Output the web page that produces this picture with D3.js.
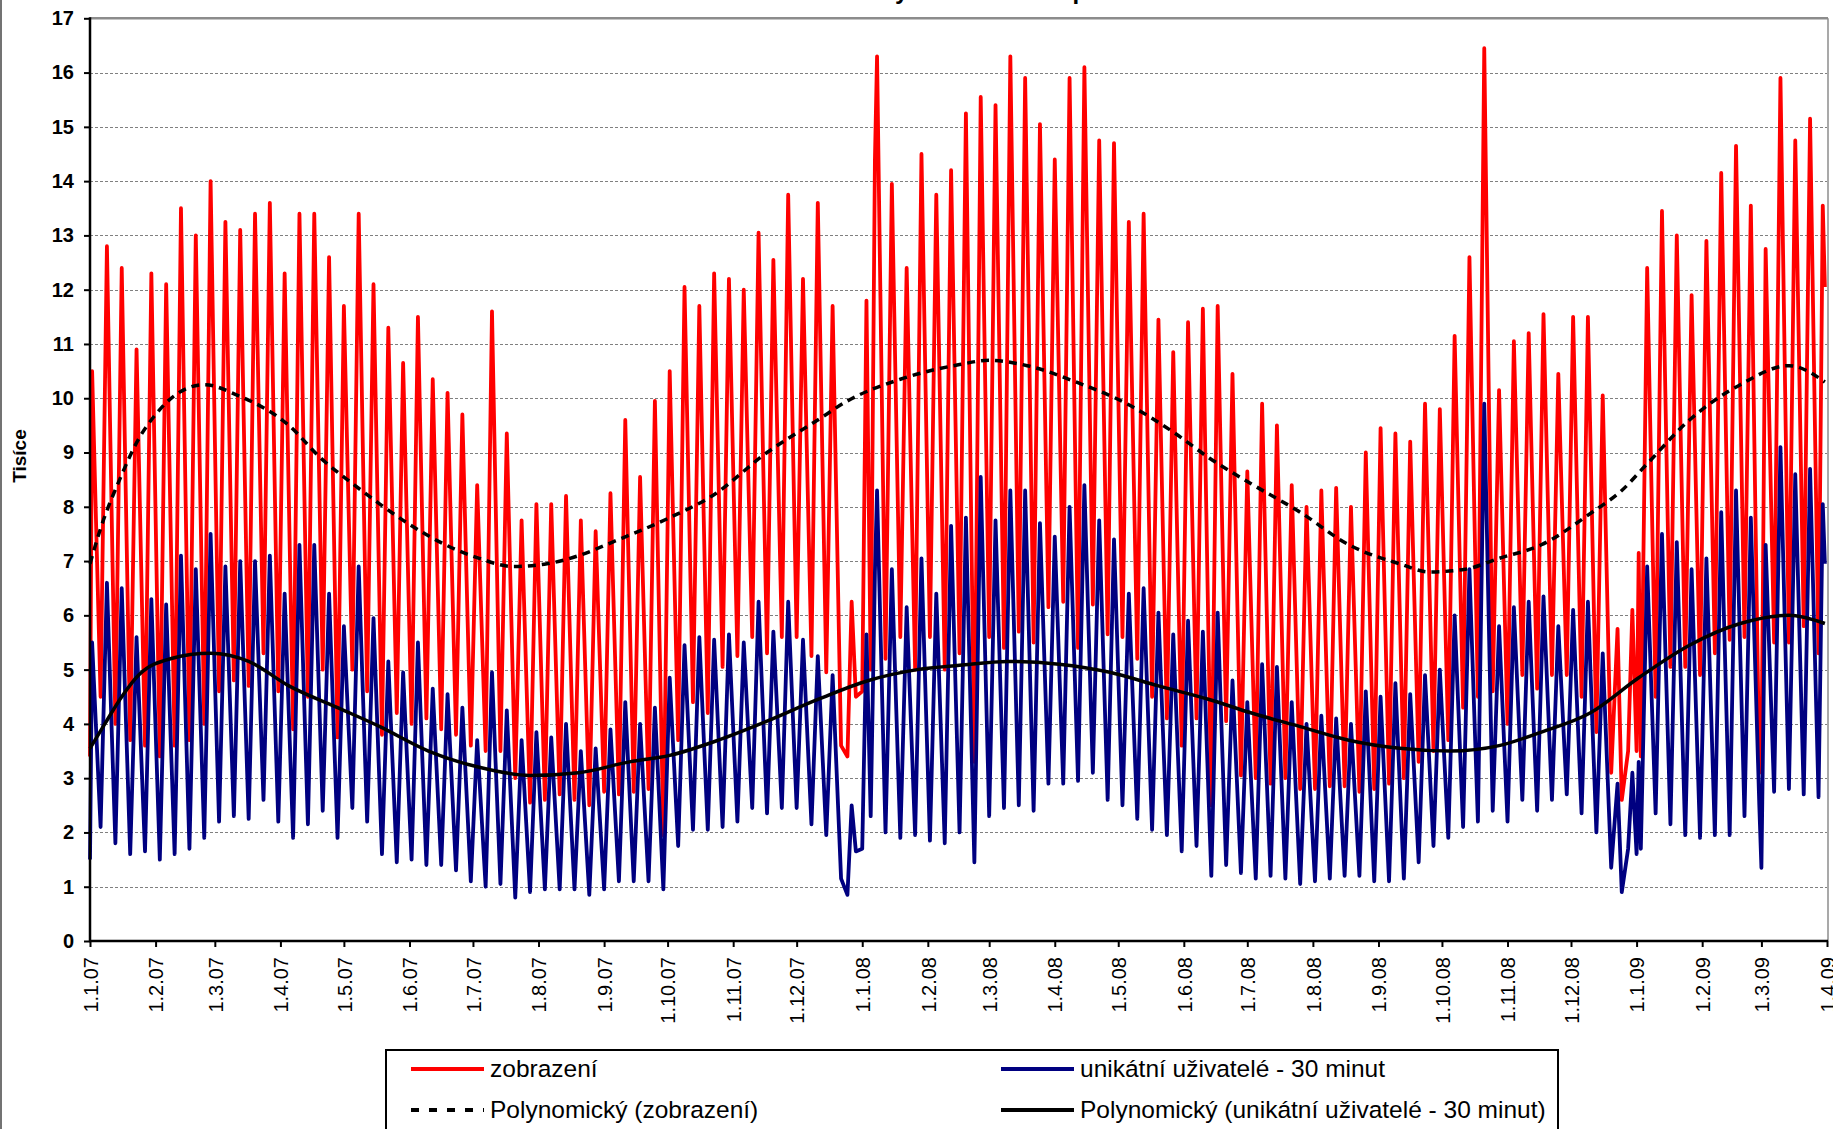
<!DOCTYPE html>
<html><head><meta charset="utf-8">
<script src="https://cdn.jsdelivr.net/npm/d3@7"></script>
<style>body{margin:0;background:#fff}svg{display:block}</style>
</head><body><svg id="c" width="1833" height="1129"></svg>
<script>
// ---------- DATA (thousands) ----------
// Weekly readings: week k starts on Monday 1.1.07 + 7k days.
// Peak placed on Tuesday, weekend low placed on Saturday.
const redPeak = [10.5,12.8,12.4,10.9,12.3,12.1,13.5,13.0,14.0,13.25,
 13.1,13.4,13.6,12.3,13.4,13.4,12.6,11.7,13.4,12.1,
 11.3,10.65,11.5,10.35,10.1,9.7,8.4,11.6,9.35,7.75,
 8.05,8.05,8.2,7.75,7.55,8.25,9.6,8.55,9.95,10.5,
 12.05,11.7,12.3,12.2,12.0,13.05,12.55,13.75,12.2,13.6,
 11.7,null,null,16.3,13.95,12.4,14.5,13.75,14.2,15.25,
 15.55,15.4,16.3,15.9,15.05,14.4,15.9,16.1,14.75,14.7,
 13.25,13.4,11.45,10.85,11.4,11.65,11.7,10.45,8.65,9.9,
 9.5,8.4,8.0,8.3,8.35,8.0,9.0,9.45,9.35,9.2,
 9.9,9.8,11.15,12.6,16.45,10.15,11.05,11.2,11.55,10.45,
 11.5,11.5,10.05,null,null,12.4,13.45,13.0,11.9,12.9,
 14.15,14.65,13.55,12.75,15.9,14.75,15.15,null];
const redLow = [4.5,4.0,3.7,3.6,3.4,3.6,3.7,4.0,4.6,4.8,
 4.7,5.3,4.6,3.9,4.5,5.0,3.75,5.0,4.6,3.8,
 4.2,4.0,4.1,3.9,3.8,3.6,3.5,3.5,3.0,2.55,
 2.6,2.7,2.6,2.5,2.75,2.7,2.75,2.8,1.95,3.7,
 4.4,4.2,5.05,5.25,5.6,5.3,5.6,5.6,5.25,4.95,
 3.6,null,5.0,5.2,5.6,5.0,5.6,5.0,5.3,3.3,
 5.6,5.4,5.7,5.5,6.15,6.25,5.4,6.2,5.65,5.6,
 5.2,4.5,4.1,3.6,4.1,2.5,4.05,3.05,3.0,2.9,
 3.0,2.8,2.8,2.85,2.85,2.75,2.8,2.9,3.0,3.3,
 3.5,3.7,4.3,4.5,4.6,4.0,4.9,4.65,4.9,4.9,
 4.5,3.85,3.1,null,3.4,4.5,5.05,5.05,4.9,5.3,
 5.55,5.6,3.1,5.5,5.5,5.8,5.3,null];
const bluePeak = [5.5,6.6,6.5,5.6,6.3,6.2,7.1,6.85,7.5,6.9,
 7.0,7.0,7.1,6.4,7.3,7.3,6.4,5.8,6.9,5.95,
 5.15,4.95,5.5,4.65,4.55,4.3,3.7,4.95,4.25,3.7,
 3.85,3.75,4.0,3.5,3.55,3.9,4.4,4.0,4.3,4.85,
 5.45,5.6,5.55,5.65,5.5,6.25,5.7,6.25,5.55,5.25,
 4.9,null,null,8.3,6.85,6.15,7.05,6.4,7.65,7.8,
 8.55,7.75,8.3,8.3,7.7,7.45,8.0,8.4,7.75,7.4,
 6.4,6.5,6.05,5.65,5.9,5.7,6.05,4.8,4.4,5.1,
 5.05,4.4,4.0,4.15,4.1,4.0,4.6,4.5,4.75,4.55,
 4.9,5.0,6.0,6.85,9.9,5.8,6.15,6.25,6.35,5.8,
 6.1,6.25,5.3,null,null,6.9,7.5,7.35,6.85,7.05,
 7.9,8.3,7.8,7.3,9.1,8.6,8.7,null];
const blueLow = [2.1,1.8,1.6,1.65,1.5,1.6,1.7,1.9,2.2,2.3,
 2.25,2.6,2.2,1.9,2.15,2.4,1.9,2.45,2.2,1.6,
 1.45,1.5,1.4,1.4,1.3,1.1,1.0,1.05,0.8,0.9,
 0.95,0.95,0.95,0.85,0.95,1.1,1.1,1.1,0.95,1.75,
 2.05,2.05,2.1,2.2,2.45,2.35,2.45,2.45,2.15,1.95,
 1.15,null,2.3,2.0,1.9,1.95,1.85,1.8,2.0,1.45,
 2.3,2.45,2.5,2.4,2.9,2.9,2.95,3.1,2.6,2.5,
 2.25,2.05,1.95,1.65,1.75,1.2,1.4,1.25,1.15,1.2,
 1.15,1.05,1.1,1.15,1.2,1.2,1.1,1.1,1.15,1.45,
 1.75,1.9,2.1,2.2,2.4,2.2,2.6,2.4,2.6,2.7,
 2.35,2.0,1.35,null,1.7,2.35,2.15,1.95,1.9,1.95,
 1.95,2.3,2.5,2.75,2.8,2.7,2.65,null];
// Individual days (holidays, end of data): day index from 1.1.07
const extraDays = [0,358,360,362,365,367,371,722,724,727,729,731,732,790,819,820];
const extraRed  = [3.4,3.4,6.25,4.5,4.6,11.8,14.4,5.75,2.6,3.5,6.1,3.5,7.15,3.2,13.55,12.05];
const extraBlue = [1.5,0.85,2.5,1.65,1.7,5.65,6.8,2.9,0.9,1.7,3.1,1.6,3.3,1.35,8.05,6.95];
// Polynomial trend lines, read at sample days
const trendRedDays = [0,5,14,23,31,40,54,70,94,109,125,137,152,168,184,200,216,231,247,274,294,320,344,358,383,411,425,443,466,490,513,529,549,572,595,619,633,650,666,686,710,724,735,756,780,803,820];
const trendRedVals = [6.95,7.6,8.5,9.25,9.7,10.05,10.25,10.05,9.5,8.9,8.4,8.05,7.65,7.3,7.05,6.9,6.95,7.1,7.35,7.8,8.2,9.0,9.6,9.95,10.35,10.62,10.7,10.6,10.3,9.9,9.35,8.9,8.42,7.9,7.3,6.95,6.8,6.85,7.05,7.3,7.9,8.3,8.75,9.6,10.25,10.6,10.3];
const trendBlueDays = [0,7,15,23,38,57,75,94,117,137,160,184,208,231,255,274,297,320,344,368,391,411,434,458,482,505,529,549,572,595,619,643,666,686,709,732,756,780,803,820];
const trendBlueVals = [3.55,4.0,4.5,4.9,5.2,5.3,5.15,4.7,4.3,3.95,3.5,3.2,3.05,3.1,3.3,3.42,3.7,4.05,4.45,4.8,5.0,5.08,5.15,5.1,4.95,4.7,4.45,4.2,3.95,3.7,3.55,3.5,3.6,3.85,4.2,4.85,5.45,5.85,6.0,5.85];
const xTickLabels = ["1.1.07","1.2.07","1.3.07","1.4.07","1.5.07","1.6.07","1.7.07","1.8.07","1.9.07","1.10.07","1.11.07","1.12.07",
 "1.1.08","1.2.08","1.3.08","1.4.08","1.5.08","1.6.08","1.7.08","1.8.08","1.9.08","1.10.08","1.11.08","1.12.08",
 "1.1.09","1.2.09","1.3.09","1.4.09"];
const yTickValues = [0,1,2,3,4,5,6,7,8,9,10,11,12,13,14,15,16,17];
const seriesNames = ["zobrazení","unikátní uživatelé - 30 minut","Polynomický (zobrazení)","Polynomický (unikátní uživatelé - 30 minut)"];
const chartTitle = "Návštěvy a zobrazení – průběh";
const yTitle = "Tisíce";

// ---------- DRAW ----------
const FONT = "'Liberation Sans', Arial, Helvetica, sans-serif";
const START = new Date(2007,0,1);
const dayDate = d => d3.timeDay.offset(START, d);
const svg = d3.select("#c");
const L = 90, R = 1827, T = 18.3, B = 941;
const x = d3.scaleTime().domain([START, new Date(2009,3,1)]).range([L, R]);
const y = d3.scaleLinear().domain([0,17]).range([B, T]);

svg.append("rect").attr("width",1833).attr("height",1129).attr("fill","#fff");
svg.append("line").attr("x1",1).attr("x2",1).attr("y1",0).attr("y2",1129).attr("stroke","#444").attr("stroke-width",1.5);

// title (cut off at the top edge, only descenders show)
const title = svg.append("text").attr("y",-1.5).attr("font-family",FONT).attr("font-weight","bold")
  .attr("font-size",24).attr("fill","#000").text(chartTitle);
{
  const node = title.node();
  const off = node.getSubStringLength(0, chartTitle.indexOf("y"));
  title.attr("x", 895 - off);
}

// gridlines
svg.append("g").selectAll("line").data(yTickValues.filter(v=>v>0 && v<17)).join("line")
  .attr("x1",L).attr("x2",R).attr("y1",d=>Math.round(y(d))+0.5).attr("y2",d=>Math.round(y(d))+0.5)
  .attr("stroke","#808080").attr("stroke-width",1).attr("stroke-dasharray","3,2");
// plot border top/right
svg.append("line").attr("x1",L).attr("x2",R+1).attr("y1",T).attr("y2",T).attr("stroke","#8c8c8c").attr("stroke-width",2.5);
svg.append("line").attr("x1",R+1).attr("x2",R+1).attr("y1",T).attr("y2",B).attr("stroke","#8c8c8c").attr("stroke-width",1.5);

function build(peaks, lows, extra){
  const pts = [];
  peaks.forEach((v,k)=>{ if(v!=null) pts.push([7*k+1, v]); });
  lows.forEach((v,k)=>{ if(v!=null) pts.push([7*k+5, v]); });
  extraDays.forEach((d,i)=>pts.push([d, extra[i]]));
  pts.sort((a,b)=>a[0]-b[0]);
  return pts;
}
const redPts = build(redPeak, redLow, extraRed);
const bluePts = build(bluePeak, blueLow, extraBlue);

const plot = svg.append("g");
const line = d3.line().x(d=>x(dayDate(d[0]))).y(d=>y(d[1]));
plot.append("path").attr("d", line(redPts)).attr("fill","none").attr("stroke","#ff0000")
  .attr("stroke-width",3.8).attr("stroke-linejoin","round");
plot.append("path").attr("d", line(bluePts)).attr("fill","none").attr("stroke","#000080")
  .attr("stroke-width",3.8).attr("stroke-linejoin","round");

const tline = d3.line().x(d=>x(dayDate(d[0]))).y(d=>y(d[1])).curve(d3.curveMonotoneX);
plot.append("path").attr("d", tline(trendRedDays.map((d,i)=>[d,trendRedVals[i]])))
  .attr("fill","none").attr("stroke","#000").attr("stroke-width",3.5).attr("stroke-dasharray","8,6");
plot.append("path").attr("d", tline(trendBlueDays.map((d,i)=>[d,trendBlueVals[i]])))
  .attr("fill","none").attr("stroke","#000").attr("stroke-width",3.5);

// axes
const monthTicks = d3.timeMonth.range(START, new Date(2009,3,2));
const xAxis = d3.axisBottom(x).tickValues(monthTicks).tickFormat((d,i)=>xTickLabels[i]).tickSize(6).tickSizeOuter(0);
const gx = svg.append("g").attr("transform",`translate(0,${B})`).call(xAxis);
gx.select(".domain").remove();
gx.selectAll(".tick line").attr("stroke","#000").attr("stroke-width",2);
gx.selectAll(".tick text").attr("transform","rotate(-90)").attr("text-anchor","end")
  .attr("x",-16).attr("y",0).attr("dy","0.36em")
  .attr("font-family",FONT).attr("font-size",20).attr("fill","#000");

const yAxis = d3.axisLeft(y).tickValues(yTickValues).tickFormat(d3.format("d")).tickSize(6).tickPadding(10).tickSizeOuter(0);
const gy = svg.append("g").attr("transform",`translate(${L},0)`).call(yAxis);
gy.select(".domain").remove();
gy.selectAll(".tick line").attr("stroke","#000").attr("stroke-width",2);
gy.selectAll(".tick text").attr("font-family",FONT).attr("font-size",20).attr("font-weight","bold").attr("fill","#000");

svg.append("line").attr("x1",L).attr("x2",L).attr("y1",T-1).attr("y2",B+1).attr("stroke","#000").attr("stroke-width",2.5);
svg.append("line").attr("x1",L-1).attr("x2",R+1).attr("y1",B).attr("y2",B).attr("stroke","#000").attr("stroke-width",2.5);

svg.append("text").attr("transform","translate(26,456) rotate(-90)").attr("text-anchor","middle")
  .attr("font-family",FONT).attr("font-size",19).attr("font-weight","bold").text(yTitle);

// legend
const lg = svg.append("g");
lg.append("rect").attr("x",386).attr("y",1050).attr("width",1172).attr("height",120)
  .attr("fill","#fff").attr("stroke","#000").attr("stroke-width",2);
const items = [
  {name:seriesNames[0], x:411, y:1069, color:"#ff0000", dash:null},
  {name:seriesNames[1], x:1001, y:1069, color:"#000080", dash:null},
  {name:seriesNames[2], x:411, y:1110, color:"#000", dash:"8,10"},
  {name:seriesNames[3], x:1001, y:1110, color:"#000", dash:null}
];
items.forEach(it=>{
  lg.append("line").attr("x1",it.x).attr("x2",it.x+73).attr("y1",it.y).attr("y2",it.y)
    .attr("stroke",it.color).attr("stroke-width",4).attr("stroke-dasharray",it.dash);
  lg.append("text").attr("x",it.x+79).attr("y",it.y+8).attr("font-family",FONT).attr("font-size",24.5)
    .attr("fill","#000").text(it.name);
});
</script></body></html>
